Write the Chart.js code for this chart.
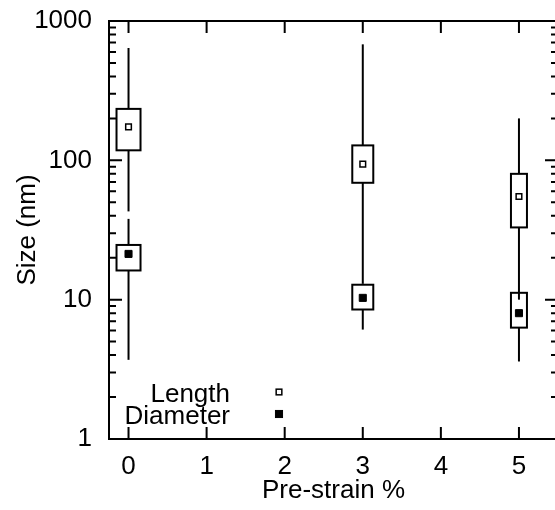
<!DOCTYPE html>
<html><head><meta charset="utf-8">
<script src="https://cdn.jsdelivr.net/npm/chart.js@4.4.0/dist/chart.umd.min.js"></script>
<style>html,body{margin:0;padding:0;overflow:hidden;background:#fff;width:555px;height:510px}canvas{display:block}</style>
</head><body><canvas id="c" width="564" height="510"></canvas>
<script>
// Pre-strain categories (%)
const preStrain = [0, 3, 5];
// Length (nm): whiskers, box and central marker
const lengthWhiskerHigh = [640, 680, 200];
const lengthBoxHigh     = [234, 128, 80];
const lengthMarker      = [174, 94, 55];
const lengthBoxLow      = [118, 69, 33];
const lengthWhiskerLow  = [43, 13, 10];
// Diameter (nm)
const diamWhiskerHigh = [38, 13, 11];
const diamBoxHigh     = [24.7, 12.8, 11.2];
const diamMarker      = [21.3, 10.3, 8.0];
const diamBoxLow      = [16.2, 8.5, 6.3];
const diamWhiskerLow  = [3.7, 6.1, 3.6];
// Axis ticks
const xTicks = [0, 1, 2, 3, 4, 5];
const yTicks = [1, 10, 100, 1000];

const FONT = 'Liberation Sans';
const boxWidthsPx = [24, 21, 16];

const boxPlugin = {
  id: 'boxes',
  beforeDatasetsDraw(chart) {
    const {ctx, scales: {x, y}} = chart;
    const series = [
      [diamWhiskerHigh, diamBoxHigh, diamBoxLow, diamWhiskerLow],
      [lengthWhiskerHigh, lengthBoxHigh, lengthBoxLow, lengthWhiskerLow]
    ];
    ctx.save();
    ctx.strokeStyle = '#000';
    ctx.lineWidth = 2;
    series.forEach(([wh, bh, bl, wl]) => {
      preStrain.forEach((px, i) => {
        const cx = x.getPixelForValue(px);
        ctx.beginPath();
        ctx.moveTo(cx, y.getPixelForValue(wh[i]));
        ctx.lineTo(cx, y.getPixelForValue(wl[i]));
        ctx.stroke();
        const w = boxWidthsPx[i];
        const top = y.getPixelForValue(bh[i]);
        const bot = y.getPixelForValue(bl[i]);
        ctx.fillStyle = '#fff';
        ctx.fillRect(cx - w / 2, top, w, bot - top);
        ctx.strokeRect(cx - w / 2, top, w, bot - top);
      });
    });
    ctx.restore();
  }
};

const framePlugin = {
  id: 'frame',
  afterDatasetsDraw(chart) {
    const {ctx, chartArea: a, scales: {x, y}} = chart;
    ctx.save();
    ctx.strokeStyle = '#000';
    ctx.lineWidth = 2;
    ctx.strokeRect(a.left, a.top, a.right - a.left, a.bottom - a.top);
    ctx.beginPath();
    xTicks.forEach(v => {
      const px = x.getPixelForValue(v);
      ctx.moveTo(px, a.bottom); ctx.lineTo(px, a.bottom - 12);
      ctx.moveTo(px, a.top); ctx.lineTo(px, a.top + 12);
    });
    yTicks.forEach(v => {
      const py = y.getPixelForValue(v);
      ctx.moveTo(a.left, py); ctx.lineTo(a.left + 13, py);
      ctx.moveTo(a.right, py); ctx.lineTo(a.right - 13, py);
    });
    for (let d = 1; d < 1000; d *= 10) {
      for (let k = 2; k <= 9; k++) {
        const py = y.getPixelForValue(k * d);
        ctx.moveTo(a.left, py); ctx.lineTo(a.left + 7, py);
        ctx.moveTo(a.right, py); ctx.lineTo(a.right - 7, py);
      }
    }
    ctx.stroke();
    ctx.restore();
  }
};

const legendPlugin = {
  id: 'keybox',
  afterDraw(chart) {
    const {ctx, chartArea: a} = chart;
    ctx.save();
    ctx.font = '26px "' + FONT + '"';
    ctx.fillStyle = '#000';
    ctx.textAlign = 'right';
    ctx.textBaseline = 'alphabetic';
    const rows = [a.bottom - 47, a.bottom - 25];
    chart.data.datasets.forEach((ds, i) => {
      const yy = rows[i];
      ctx.fillText(ds.label, a.left + 121, yy + 10);
      const mx = a.left + 170;
      const s = ds.pointRadius * Math.SQRT1_2;
      ctx.fillStyle = ds.backgroundColor;
      ctx.strokeStyle = ds.borderColor;
      ctx.lineWidth = ds.borderWidth;
      ctx.fillRect(mx - s, yy - s, 2 * s, 2 * s);
      ctx.strokeRect(mx - s, yy - s, 2 * s, 2 * s);
      ctx.fillStyle = '#000';
    });
    ctx.restore();
  }
};

new Chart(document.getElementById('c'), {
  type: 'scatter',
  data: {
    datasets: [
      {label: 'Length', data: preStrain.map((v, i) => ({x: v, y: lengthMarker[i]})),
       pointStyle: 'rect', pointRadius: 4, borderWidth: 1.5, borderColor: '#000', backgroundColor: '#fff'},
      {label: 'Diameter', data: preStrain.map((v, i) => ({x: v, y: diamMarker[i]})),
       pointStyle: 'rect', pointRadius: 5, borderWidth: 1, borderColor: '#000', backgroundColor: '#000'}
    ]
  },
  options: {
    responsive: false,
    animation: false,
    devicePixelRatio: 1,
    layout: {padding: {top: 21, right: 0, bottom: 0, left: 0}},
    plugins: {legend: {display: false}, tooltip: {enabled: false}},
    scales: {
      x: {
        type: 'linear', min: -0.25, max: 5.5,
        afterBuildTicks: s => { s.ticks = xTicks.map(v => ({value: v})); },
        afterFit: s => { s.height = 71; s.paddingLeft = 0; s.paddingRight = 0; },
        grid: {display: false, drawTicks: false},
        border: {display: false},
        ticks: {font: {family: FONT, size: 26}, color: '#000', padding: 12, callback: v => String(v)},
        title: {display: true, text: 'Pre-strain %', font: {family: FONT, size: 26}, color: '#000', padding: {top: 0, bottom: 4}}
      },
      y: {
        type: 'logarithmic', min: 1, max: 1000,
        afterBuildTicks: s => { s.ticks = yTicks.map(v => ({value: v})); },
        afterFit: s => { s.width = 109; s.paddingTop = 0; s.paddingBottom = 0; },
        grid: {display: false, drawTicks: false},
        border: {display: false},
        ticks: {font: {family: FONT, size: 26}, color: '#000', padding: 17, callback: v => String(v)},
        title: {display: true, text: 'Size (nm)', font: {family: FONT, size: 26}, color: '#000', padding: {top: 12, bottom: 0}}
      }
    }
  },
  plugins: [boxPlugin, framePlugin, legendPlugin]
});
</script>
</body></html>
